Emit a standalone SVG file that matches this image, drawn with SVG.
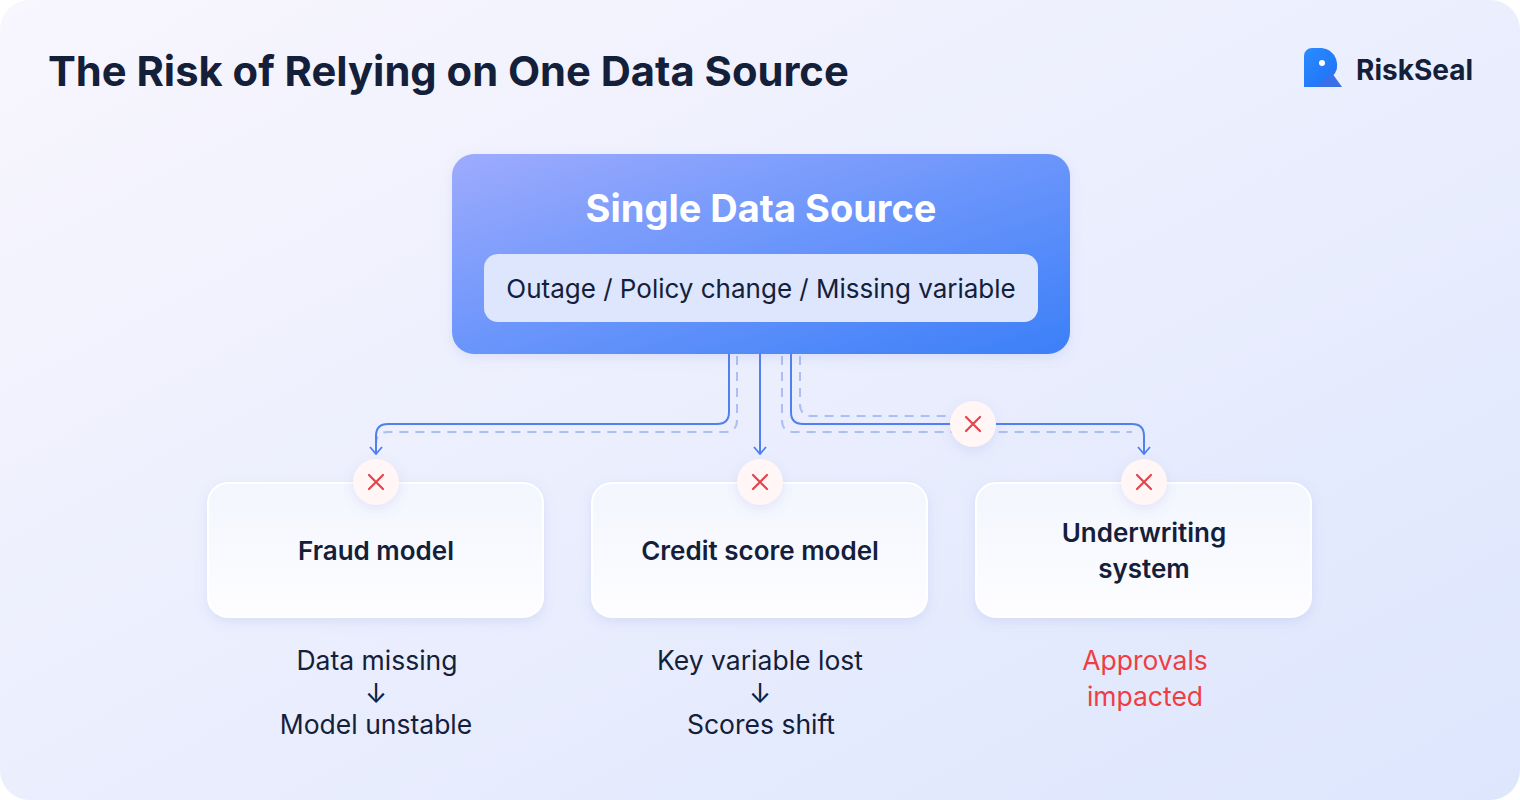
<svg xmlns="http://www.w3.org/2000/svg" width="1520" height="800" viewBox="0 0 1520 800">
<defs>
<linearGradient id="bg" x1="0" y1="0" x2="1" y2="1"><stop offset="0" stop-color="#f8f6fe"/><stop offset="1" stop-color="#dde6fd"/></linearGradient>
<linearGradient id="top" x1="0" y1="0" x2="1" y2="1"><stop offset="0" stop-color="#9eabfd"/><stop offset="0.5" stop-color="#6a95fb"/><stop offset="1" stop-color="#3b7ff8"/></linearGradient>
<linearGradient id="card" x1="0" y1="0" x2="0" y2="1"><stop offset="0" stop-color="#f3f6fe"/><stop offset="1" stop-color="#fdfdff"/></linearGradient>
<filter id="sh" x="-20%" y="-20%" width="140%" height="150%"><feDropShadow dx="0" dy="4" stdDeviation="6" flood-color="#6b7fd6" flood-opacity="0.15"/></filter>
<marker id="ar" viewBox="0 0 12 14" refX="11" refY="7" markerWidth="12" markerHeight="14" markerUnits="userSpaceOnUse" orient="auto"><path d="M4,1 L11,7 L4,13" fill="none" stroke="#4f80ef" stroke-width="1.8"/></marker>
<linearGradient id="logo" x1="0" y1="0" x2="1" y2="1"><stop offset="0" stop-color="#2a8cff"/><stop offset="1" stop-color="#1f6ef5"/></linearGradient>
</defs>
<style>
.t{font-family:Inter,"Liberation Sans",sans-serif;fill:#14203a}
.ct{font-size:26px;font-weight:600;text-anchor:middle}
.nt{font-size:26.5px;text-anchor:middle}
.sol{fill:none;stroke:#4f80ef;stroke-width:2}
.dsh{fill:none;stroke:#aebdf2;stroke-width:2;stroke-dasharray:9 7}
.cir{fill:#fff6f5;filter:url(#sh)}
.x{stroke:#e8424a;stroke-width:2.2;stroke-linecap:round}
</style>
<rect width="1520" height="800" rx="30" fill="url(#bg)"/>
<text class="t" x="48" y="86" font-size="41.7" font-weight="700">The Risk of Relying on One Data Source</text>
<g id="logo-g">
<path d="M1304,56 a8,8 0 0 1 8,-8 h10 a17,17 0 0 1 10,29 l9,10 h-37 z" fill="url(#logo)"/>
<path d="M1316,87 l16,-14 l10,14 z" fill="#3b6fe8"/>
<circle cx="1322" cy="63" r="3" fill="#fff"/>
<text class="t" x="1356" y="80" font-size="28" font-weight="700">RiskSeal</text>
</g>
<g id="connectors">
<path class="dsh" d="M737,356 V420 Q737,432 725,432 H388 Q376,432 376,444"/>
<path class="dsh" d="M782,356 V420 Q782,432 794,432 H1132"/>
<path class="dsh" d="M800,356 V404 Q800,416 812,416 H952"/>
<path class="sol" d="M729,354 V412 Q729,424 717,424 H388 Q376,424 376,436 V454" marker-end="url(#ar)"/>
<path class="sol" d="M760,354 V454" marker-end="url(#ar)"/>
<path class="sol" d="M791,354 V412 Q791,424 803,424 H1132 Q1144,424 1144,436 V454" marker-end="url(#ar)"/>
</g>
<g id="source">
<rect x="452" y="154" width="618" height="200" rx="22" fill="url(#top)" filter="url(#sh)"/>
<text x="761" y="222" font-family="Inter,'Liberation Sans',sans-serif" font-size="38" font-weight="700" fill="#fff" text-anchor="middle">Single Data Source</text>
<rect x="484" y="254" width="554" height="68" rx="14" fill="#dde6fd"/>
<text class="t" x="761" y="298" font-size="26" text-anchor="middle">Outage / Policy change / Missing variable</text>
</g>
<g id="break"><circle class="cir" cx="973" cy="424" r="23"/><path class="x" d="M966,417 l14,14 M980,417 l-14,14"/></g>
<g id="fraud">
<rect x="208" y="483" width="335" height="134" rx="20" fill="url(#card)" stroke="#ffffff" stroke-width="2" filter="url(#sh)"/>
<text class="t ct" x="376" y="560">Fraud model</text>
<circle class="cir" cx="376" cy="482" r="23"/><path class="x" d="M369,475 l14,14 M383,475 l-14,14"/>
<text class="t nt" x="377" y="670">Data missing</text>
<text class="t nt" x="376" y="703">↓</text>
<text class="t nt" x="376" y="734">Model unstable</text>
</g>
<g id="credit">
<rect x="592" y="483" width="335" height="134" rx="20" fill="url(#card)" stroke="#ffffff" stroke-width="2" filter="url(#sh)"/>
<text class="t ct" x="760" y="560">Credit score model</text>
<circle class="cir" cx="760" cy="482" r="23"/><path class="x" d="M753,475 l14,14 M767,475 l-14,14"/>
<text class="t nt" x="760" y="670">Key variable lost</text>
<text class="t nt" x="760" y="703">↓</text>
<text class="t nt" x="761" y="734">Scores shift</text>
</g>
<g id="under">
<rect x="976" y="483" width="335" height="134" rx="20" fill="url(#card)" stroke="#ffffff" stroke-width="2" filter="url(#sh)"/>
<text class="t ct" x="1144" y="542">Underwriting</text>
<text class="t ct" x="1144" y="578">system</text>
<circle class="cir" cx="1144" cy="482" r="23"/><path class="x" d="M1137,475 l14,14 M1151,475 l-14,14"/>
<text class="nt" x="1145" y="670" font-family="Inter,'Liberation Sans',sans-serif" fill="#ef3e42">Approvals</text>
<text class="nt" x="1145" y="706" font-family="Inter,'Liberation Sans',sans-serif" fill="#ef3e42">impacted</text>
</g>
</svg>
